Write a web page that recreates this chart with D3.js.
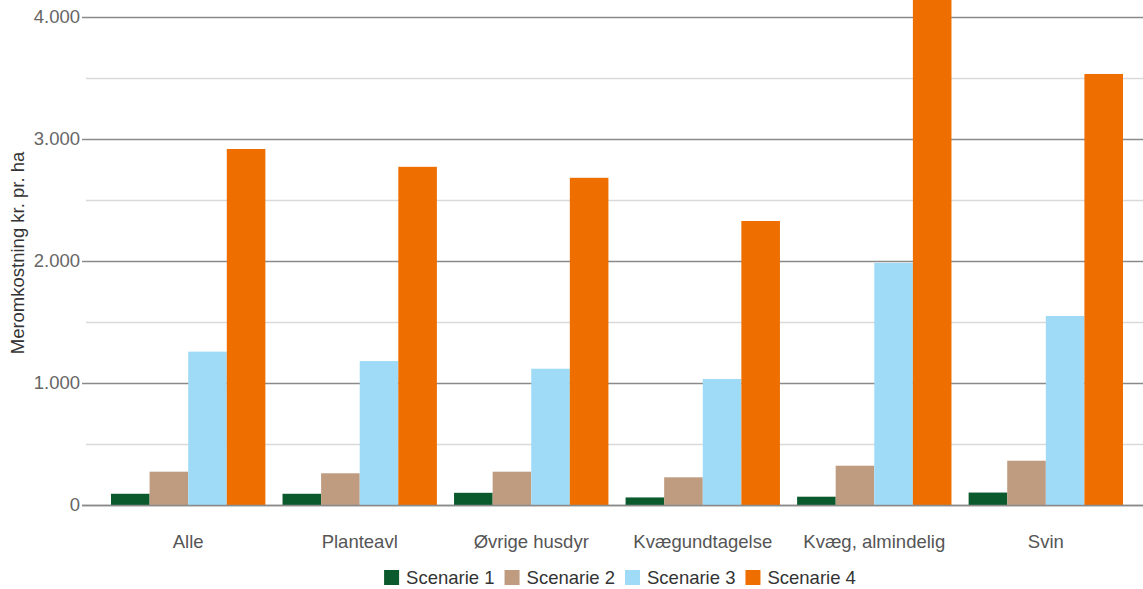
<!DOCTYPE html>
<html>
<head>
<meta charset="utf-8">
<script src="https://cdn.jsdelivr.net/npm/d3@7"></script>
<style>
  body { margin: 0; background: #fff; }
  svg { display: block; font-family: "Liberation Sans", Arial, sans-serif; }
</style>
</head>
<body>
<svg id="svg"></svg>
<script>
const width = 1143;
const height = 589;

// chart data
const categories = ["Alle", "Planteavl", "Øvrige husdyr", "Kvægundtagelse", "Kvæg, almindelig", "Svin"];
const seriesNames = ["Scenarie 1", "Scenarie 2", "Scenarie 3", "Scenarie 4"];
const scenarie1 = [92, 92, 100, 62, 68, 102];
const scenarie2 = [273, 260, 273, 227, 322, 363];
const scenarie3 = [1257, 1180, 1117, 1033, 1984, 1549];
const scenarie4 = [2918, 2772, 2682, 2328, 4400, 3533];
const yTicks = [0, 1000, 2000, 3000, 4000];
const yMinorTicks = [500, 1500, 2500, 3500];
const colours = ["#0b5a2d", "#bf9b7f", "#9fdbf6", "#ee6f00"];

const seriesValues = [scenarie1, scenarie2, scenarie3, scenarie4];

let svg = d3.select("#svg")
    .attr("width", width)
    .attr("height", height);

const plotLeft = 84;
const plotRight = 1143;

let yScale = d3.scaleLinear()
    .domain([0, 4000])
    .range([505, 17]);

let xScale = d3.scaleBand()
    .domain(categories)
    .range([111, 1123])
    .paddingInner(0.1)
    .paddingOuter(0);

let xSub = d3.scaleBand()
    .domain(seriesNames)
    .range([0, xScale.bandwidth()]);

// minor gridlines
svg.append("g")
    .selectAll("line")
    .data(yMinorTicks)
    .join("line")
    .attr("x1", plotLeft + 2)
    .attr("x2", plotRight)
    .attr("y1", d => yScale(d) + 0.5)
    .attr("y2", d => yScale(d) + 0.5)
    .attr("stroke", "#d9d9d9")
    .attr("stroke-width", 1.5);

// major gridlines via axis
const yAxis = svg.append("g")
    .attr("transform", `translate(${plotLeft},0)`)
    .call(d3.axisLeft(yScale)
        .tickValues(yTicks)
        .tickSize(-(plotRight - plotLeft))
        .tickPadding(4)
        .tickFormat(d => d3.format(",")(d).replace(/,/g, ".")));

yAxis.select(".domain").remove();
yAxis.selectAll(".tick line")
    .attr("stroke", "#8a8a8a")
    .attr("stroke-width", 1.5)
    .attr("x1", -2);
yAxis.selectAll(".tick text")
    .attr("fill", "#666")
    .style("font-size", "18.5px");

// bars
const groups = svg.append("g")
    .selectAll("g")
    .data(categories)
    .join("g")
    .attr("transform", d => `translate(${xScale(d)},0)`);

groups.selectAll("rect")
    .data((d, i) => seriesNames.map((s, j) => ({ series: s, value: seriesValues[j][i], colour: colours[j] })))
    .join("rect")
    .attr("x", d => xSub(d.series))
    .attr("width", xSub.bandwidth())
    .attr("y", d => yScale(d.value))
    .attr("height", d => yScale(0) - yScale(d.value))
    .attr("fill", d => d.colour);

// baseline
svg.append("line")
    .attr("x1", plotLeft - 2)
    .attr("x2", plotRight)
    .attr("y1", yScale(0) + 0.5)
    .attr("y2", yScale(0) + 0.5)
    .attr("stroke", "#8a8a8a")
    .attr("stroke-width", 1.5);

// x labels
const xAxis = svg.append("g")
    .attr("transform", `translate(0,${yScale(0)})`)
    .call(d3.axisBottom(xScale).tickSize(0).tickPadding(30));
xAxis.select(".domain").remove();
xAxis.selectAll(".tick text")
    .attr("fill", "#555")
    .style("font-size", "18.5px");

// y title
svg.append("text")
    .attr("transform", "translate(24,253) rotate(-90)")
    .attr("text-anchor", "middle")
    .attr("fill", "#333")
    .style("font-size", "18.5px")
    .text("Meromkostning kr. pr. ha");

// legend, laid out from measured text widths and centred
const legendG = svg.append("g");
const legend = legendG.selectAll("g")
    .data(seriesNames)
    .join("g");

legend.append("rect")
    .attr("width", 15)
    .attr("height", 15)
    .attr("fill", (d, i) => colours[i]);

legend.append("text")
    .attr("x", 22)
    .attr("y", 14)
    .attr("fill", "#333")
    .style("font-size", "18.5px")
    .text(d => d);

let cursor = 0;
legend.each(function () {
    const w = d3.select(this).select("text").node().getComputedTextLength();
    d3.select(this).attr("transform", `translate(${cursor},0)`);
    cursor += 22 + w + 10;
});
const legendWidth = cursor - 10;
legendG.attr("transform", `translate(${620 - legendWidth / 2},570)`);
</script>
</body>
</html>
